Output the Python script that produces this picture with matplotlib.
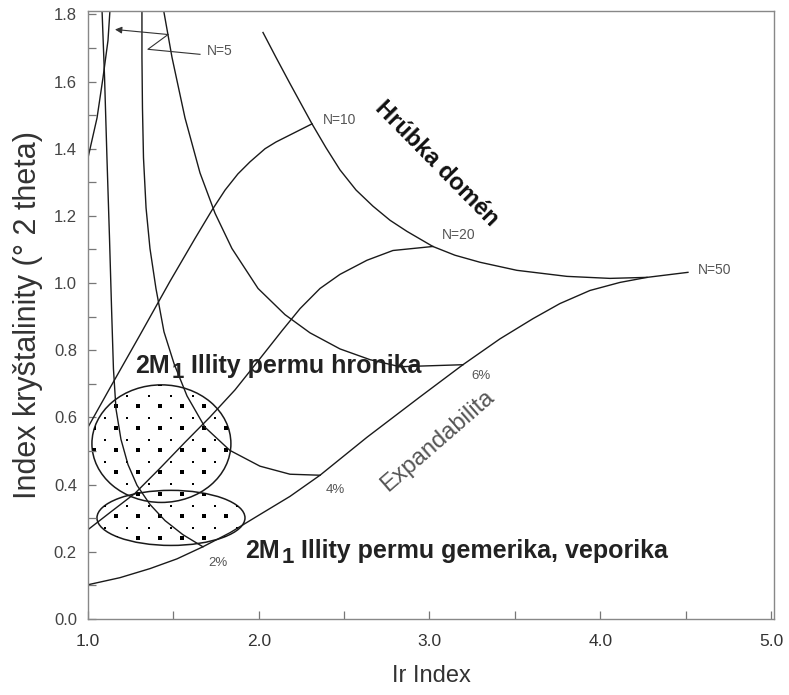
import numpy as np
import matplotlib
matplotlib.use("Agg")
import matplotlib.pyplot as plt
from matplotlib.patches import Ellipse

plt.rcParams["font.family"] = ["Liberation Sans", "DejaVu Sans"]

# lines of constant thickness (N)
n5_x = [1.0, 1.053, 1.088, 1.117, 1.129]
n5_y = [1.373, 1.492, 1.612, 1.722, 1.815]
n10_x = [1.000, 1.129, 1.305, 1.480, 1.627, 1.726, 1.803, 1.878, 1.949, 2.037,
         2.101, 2.312]
n10_y = [0.571, 0.688, 0.846, 1.005, 1.133, 1.217, 1.277, 1.325, 1.361, 1.400,
         1.420, 1.474]
n20_x = [1.000, 1.129, 1.275, 1.422, 1.568, 1.714, 1.861, 2.007, 2.136, 2.242,
         2.359, 2.476, 2.634, 2.786, 3.020]
n20_y = [0.266, 0.317, 0.374, 0.449, 0.526, 0.601, 0.682, 0.775, 0.858, 0.924,
         0.984, 1.026, 1.068, 1.097, 1.109]
n50_x = [1.000, 1.187, 1.363, 1.521, 1.673, 1.832, 2.007, 2.183, 2.359, 2.634,
         2.944, 3.196, 3.413, 3.606, 3.764, 3.940, 4.116, 4.274, 4.514]
n50_y = [0.102, 0.123, 0.150, 0.179, 0.215, 0.257, 0.311, 0.365, 0.428, 0.541,
         0.661, 0.757, 0.834, 0.894, 0.939, 0.978, 1.002, 1.017, 1.032]

# lines of constant expandability
e0_x = [2.025, 2.101, 2.183, 2.312, 2.394, 2.476, 2.570, 2.669, 2.769, 2.868,
        3.020, 3.149, 3.296, 3.512, 3.805, 4.057, 4.274]
e0_y = [1.746, 1.672, 1.594, 1.474, 1.403, 1.337, 1.277, 1.229, 1.187, 1.154,
        1.109, 1.083, 1.062, 1.038, 1.020, 1.014, 1.017]
e2_x = [1.082, 1.097, 1.111, 1.126, 1.138, 1.149, 1.164, 1.193, 1.234, 1.287,
        1.363, 1.451, 1.556, 1.673]
e2_y = [1.815, 1.612, 1.373, 1.133, 0.924, 0.745, 0.625, 0.535, 0.460, 0.398,
        0.341, 0.293, 0.251, 0.215]
e4_x = [1.316, 1.316, 1.319, 1.325, 1.340, 1.363, 1.398, 1.445, 1.504, 1.580,
        1.685, 1.831, 2.007, 2.183, 2.359]
e4_y = [1.815, 1.672, 1.522, 1.373, 1.224, 1.103, 0.984, 0.855, 0.760, 0.664,
        0.571, 0.502, 0.455, 0.431, 0.428]
e6_x = [1.445, 1.492, 1.568, 1.656, 1.744, 1.843, 1.996, 2.154, 2.300, 2.476,
        2.652, 2.827, 3.196]
e6_y = [1.806, 1.672, 1.492, 1.328, 1.208, 1.103, 0.984, 0.906, 0.852, 0.804,
        0.772, 0.751, 0.757]

# curve labels
n_labels = ["N=5", "N=10", "N=20", "N=50"]
n_lab_x = [1.697, 2.376, 3.073, 4.572]
n_lab_y = [1.69, 1.486, 1.142, 1.038]
pct_labels = ["2%", "4%", "6%"]
pct_lab_x = [1.703, 2.394, 3.243]
pct_lab_y = [0.167, 0.383, 0.724]

# N=5 leader (zig-zag + arrow)
lead5_x = [1.656, 1.351, 1.469]
lead5_y = [1.681, 1.696, 1.740]
arrow5_tip = (1.158, 1.755)

# sample fields: centre x, centre y, width, height
field_cx = [1.430, 1.486]
field_cy = [0.522, 0.301]
field_w = [0.814, 0.867]
field_h = [0.350, 0.164]
field_text = [" Illity permu hronika", " Illity permu gemerika, veporika"]
field_tx = [1.275, 1.919]
field_ty = [0.754, 0.203]

fig = plt.figure(figsize=(7.89, 6.95), dpi=100)
ax = fig.add_axes([88 / 789, 76 / 695, 686 / 789, 608 / 695])

lc = "#1a1a1a"
for xs, ys in [(n5_x, n5_y), (n10_x, n10_y), (n20_x, n20_y), (n50_x, n50_y),
               (e0_x, e0_y), (e2_x, e2_y), (e4_x, e4_y), (e6_x, e6_y)]:
    ax.plot(xs, ys, color=lc, lw=1.0, solid_joinstyle="round")

ax.plot(lead5_x, lead5_y, color="#333333", lw=0.8)
ax.annotate("", xy=arrow5_tip, xytext=(lead5_x[-1], lead5_y[-1]),
            arrowprops=dict(arrowstyle="-|>", color="#333333", lw=0.8,
                            mutation_scale=10, shrinkA=0, shrinkB=0))

for t, x, y in zip(n_labels, n_lab_x, n_lab_y):
    ax.text(x, y, t, fontsize=10, color="#555555", ha="left", va="center")
for t, x, y in zip(pct_labels, pct_lab_x, pct_lab_y):
    ax.text(x, y, t, fontsize=9.5, color="#555555", ha="left", va="center")

# stippled ellipses
dx, dy = 22 / 170.75, 22 / 335.9
for cx, cy, w, h in zip(field_cx, field_cy, field_w, field_h):
    ell = Ellipse((cx, cy), w, h, fill=False, ec=lc, lw=1.1)
    ax.add_patch(ell)
    for x0, y0, s in [(1.162, 0.633, 6.0), (1.0996, 0.665, 3.5)]:
        gx, gy = np.meshgrid(np.arange(x0 - 2 * dx, 2.1, dx),
                             np.arange(y0 - 8 * dy, 0.75, dy))
        sc = ax.scatter(gx.ravel(), gy.ravel(), marker="s", s=s, c="k", lw=0)
        sc.set_clip_path(ell)

# "2M1 ..." labels: subscript 1 dropped below the baseline
tc = "#222222"
for rest, x, y in zip(field_text, field_tx, field_ty):
    t1 = ax.text(x, y, "2M", fontsize=18, fontweight="bold", color=tc,
                 ha="left", va="center")
    t2 = ax.annotate("1", xy=(1, 0), xycoords=t1, xytext=(1.5, 0),
                     textcoords="offset points", fontsize=16, fontweight="bold",
                     color=tc, ha="left", va="baseline")
    ax.annotate(rest, xy=(1, 0), xycoords=(t2, t1), fontsize=18,
                fontweight="bold", color=tc, ha="left", va="bottom")

ax.text(3.044, 1.355, "Hrúbka domén", fontsize=17, fontweight="bold", color="#111111",
        rotation=-45.5, ha="center", va="center", rotation_mode="anchor")
ax.text(3.05, 0.53, "Expandabilita", fontsize=17, color="#555555",
        rotation=41, ha="center", va="center", rotation_mode="anchor")

ax.set_xlim(1.0, 5.018)
ax.set_ylim(0.0, 1.81)
ax.set_xticks(np.arange(1.0, 5.01, 1.0))
ax.set_xticklabels([f"{v:.1f}" for v in np.arange(1.0, 5.01, 1.0)])
ax.set_xticks(np.arange(1.5, 4.6, 1.0), minor=True)
ax.set_yticks(np.arange(0.0, 1.81, 0.2))
ax.set_yticklabels([f"{v:.1f}" for v in np.arange(0.0, 1.81, 0.2)])
ax.set_yticks(np.arange(0.1, 1.8, 0.2), minor=True)
ax.tick_params(which="both", direction="in", length=6, width=0.9, color="#777777")
ax.tick_params(axis="x", which="major", pad=11, labelsize=12.5, labelcolor="#333333")
ax.tick_params(axis="y", which="major", pad=8, labelsize=12, labelcolor="#444444")
for sp in ax.spines.values():
    sp.set_color("#888888")
    sp.set_linewidth(1.0)

ax.set_xlabel("Ir Index", fontsize=17, color="#333333", labelpad=11)
ax.set_ylabel("Index kryštalinity (° 2 theta)", fontsize=22, color="#333333", labelpad=8)

fig.savefig("out.png", dpi=100)
